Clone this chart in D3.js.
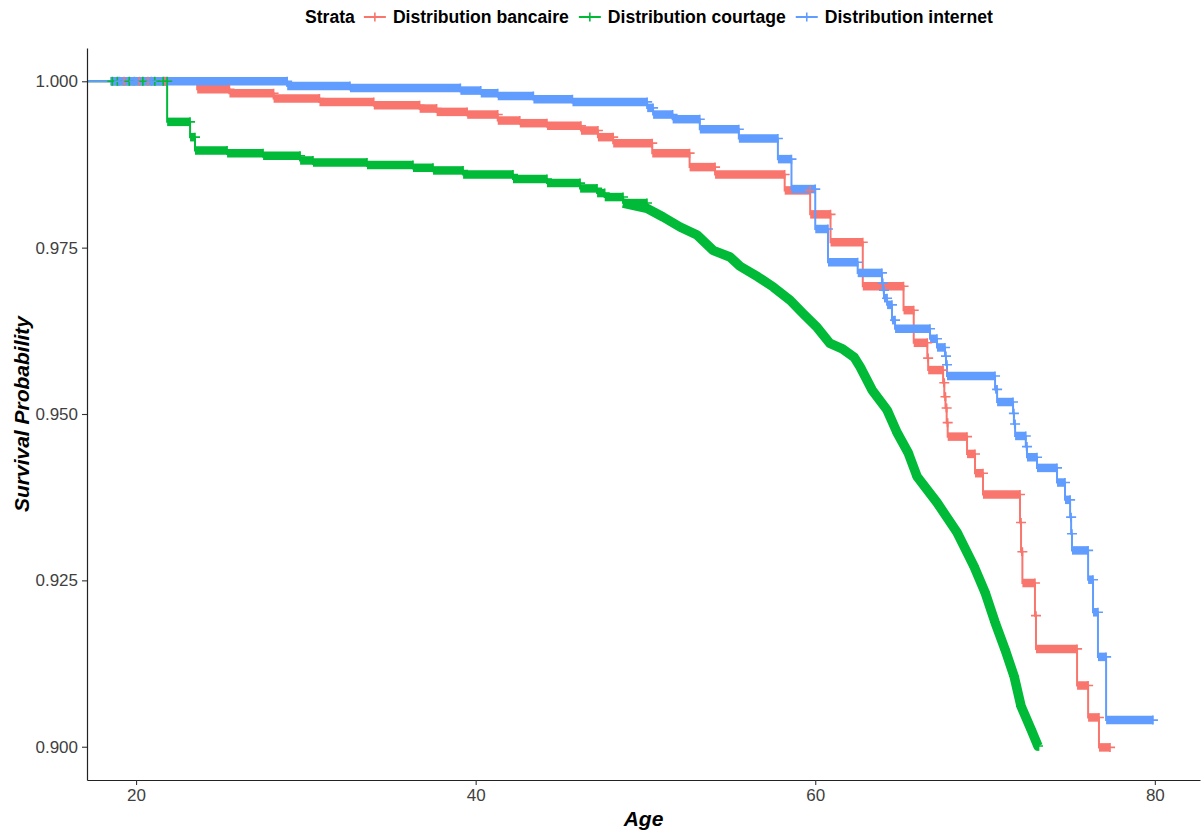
<!DOCTYPE html>
<html lang="fr">
  <head>
    <meta charset="utf-8">
    <title>Survival Probability</title>
    <script src="https://d3js.org/d3.v7.min.js"></script>
    <style media="screen">
      body { margin: 0; background: #fff; }
      svg { font-family: "Liberation Sans", Arial, sans-serif; }
    </style>
  </head>
  <body>
    <div id="chart"></div>
    <script type="text/javascript">
      // Kaplan-Meier steps: age of each drop, survival after it
      let strata = ["Distribution bancaire", "Distribution courtage", "Distribution internet"];
      let ageTicks = [20, 40, 60, 80];
      let survTicks = [0.900, 0.925, 0.950, 0.975, 1.000];

      let bancaireAge = [23.6, 25.5, 28.1, 30.8, 34.0, 36.7, 37.7, 39.5, 41.3, 42.6, 44.2, 46.2, 47.2, 48.1,
        50.4, 52.6, 54.1, 58.2, 59.7, 60.9, 62.8, 65.2, 65.8, 66.6, 66.65, 67.53, 67.6, 67.67, 67.74, 67.8,
        68.94, 69.41, 69.88, 72.06, 72.12, 72.2, 72.94, 73.0, 75.42, 76.07, 76.71];
      let bancaireSurv = [0.9988, 0.9982, 0.9974, 0.9969, 0.9964, 0.9959, 0.9954, 0.9950, 0.9941, 0.9937, 0.9933,
        0.9926, 0.9916, 0.9907, 0.9892, 0.9871, 0.9860, 0.9836, 0.9800, 0.9758, 0.9692, 0.9656, 0.9607, 0.9584,
        0.9566, 0.9547, 0.9526, 0.9509, 0.9487, 0.9466, 0.9440, 0.9411, 0.9379, 0.9337, 0.9293, 0.9246, 0.9197,
        0.9147, 0.9092, 0.9044, 0.8999];
      let bancaireEnd = 77.36;
      let bancaireEarly = [19.3, 20.2, 20.7, 21.7];

      let courtageAge = [21.83, 23.18, 23.47, 25.36, 27.48, 29.66, 30.42, 33.6, 36.31, 37.49, 39.26, 42.2, 44.2,
        46.15, 47.15, 47.6, 48.68, 50.09, 51.04, 52.04, 53.04, 53.98, 54.98, 55.57, 56.63, 57.52, 58.52, 59.28,
        60.11, 60.87, 61.6, 62.3, 62.64, 63.35, 64.23, 64.82, 65.47, 66.0, 67.17, 68.35, 69.35, 70.0, 70.59,
        71.18, 71.71, 72.12, 72.71, 73.12];
      let courtageSurv = [0.9939, 0.9916, 0.9896, 0.9892, 0.9888, 0.9881, 0.9878, 0.9874, 0.9870, 0.9866, 0.9860,
        0.9853, 0.9847, 0.9839, 0.9832, 0.9826, 0.9817, 0.9809, 0.9796, 0.9781, 0.9769, 0.9746, 0.9736, 0.9722,
        0.9706, 0.9691, 0.9671, 0.9651, 0.9630, 0.9606, 0.9598, 0.9585, 0.9571, 0.9536, 0.9506, 0.9472, 0.9442,
        0.9406, 0.9367, 0.9322, 0.9271, 0.9232, 0.9187, 0.9146, 0.9106, 0.9061, 0.9026, 0.9001];
      let courtageEnd = 73.2;
      let courtageEarly = [18.6, 18.9, 19.6, 20.4, 21.1, 21.6];

      let internetAge = [28.9, 32.6, 39.1, 40.3, 41.3, 43.4, 45.7, 50.1, 50.45, 51.6, 53.2, 55.5, 57.8, 58.6,
        60.0, 60.75, 62.5, 63.93, 63.98, 64.05, 64.23, 64.52, 64.7, 66.76, 67.17, 67.64, 67.7, 67.76, 70.59,
        70.71, 71.65, 71.7, 71.77, 72.4, 72.47, 73.06, 74.24, 74.71, 75.01, 75.07, 75.12, 76.07, 76.36, 76.65, 77.13];
      let internetSurv = [0.9993, 0.9990, 0.9986, 0.9982, 0.9978, 0.9973, 0.9969, 0.9960, 0.9950, 0.9943, 0.9928,
        0.9914, 0.9883, 0.9838, 0.9778, 0.9728, 0.9712, 0.9697, 0.9686, 0.9674, 0.9664, 0.9641, 0.9628, 0.9613,
        0.9600, 0.9587, 0.9574, 0.9557, 0.9537, 0.9518, 0.9501, 0.9485, 0.9467, 0.9451, 0.9435, 0.9419, 0.9397,
        0.9371, 0.9345, 0.9320, 0.9295, 0.9251, 0.9202, 0.9135, 0.9040];
      let internetEnd = 79.89;
      let internetEarly = [19.0, 19.9, 20.9];

      let w = 1203;
      let h = 833;
      let padL = 87, padR = 1200, padT = 48, padB = 780;

      let series = [
        { name: strata[0], color: "#F8766D", ages: bancaireAge, surv: bancaireSurv, end: bancaireEnd, early: bancaireEarly, bandFrom: 23.6 },
        { name: strata[1], color: "#00BA38", ages: courtageAge, surv: courtageSurv, end: courtageEnd, early: courtageEarly, bandFrom: 18.5, smoothFrom: 50 },
        { name: strata[2], color: "#619CFF", ages: internetAge, surv: internetSurv, end: internetEnd, early: internetEarly, bandFrom: 18.5 }
      ];

      let svg = d3.select("#chart")
                  .append("svg")
                  .attr("width", w)
                  .attr("height", h);

      let x = d3.scaleLinear().domain([17.11, 82.66]).range([padL, padR]);
      let y = d3.scaleLinear().domain([0.895, 1.005]).range([padB, padT]);

      let startAge = x.domain()[0];
      let plusPath = "M-5,0H5M0,-4.5V4.5";

      function smooth(s, a) {
        return s.smoothFrom !== undefined && a >= s.smoothFrom;
      }

      // flat pieces of a step curve (only where it is drawn as steps)
      function flats(s) {
        let out = [{ x0: startAge, x1: s.ages[0], v: 1 }];
        s.ages.forEach(function (a, i) {
          out.push({ x0: a, x1: i + 1 < s.ages.length ? s.ages[i + 1] : s.end, v: s.surv[i] });
        });
        return out.filter(d => d.x1 > s.bandFrom && !smooth(s, d.x0));
      }

      // corner points; where drops are very dense the curve just joins the points
      function pathPoints(s) {
        let out = [[startAge, 1]];
        let prev = 1;
        s.ages.forEach(function (a, i) {
          if (!smooth(s, a)) out.push([a, prev]);
          out.push([a, s.surv[i]]);
          prev = s.surv[i];
        });
        out.push([s.end, prev]);
        return out;
      }

      let line = d3.line()
                   .x(d => x(d[0]))
                   .y(d => y(d[1]));

      let curves = svg.append("g");
      series.forEach(function (s) {
        let g = curves.append("g");
        let pts = pathPoints(s);

        g.append("path")
         .attr("d", line(pts))
         .attr("fill", "none")
         .attr("stroke", s.color)
         .attr("stroke-width", 2);

        // dense censoring shows as a thick band along each flat
        g.selectAll("line.band")
         .data(flats(s))
         .enter()
         .append("line")
         .attr("class", "band")
         .attr("x1", d => x(Math.max(d.x0, s.bandFrom)))
         .attr("x2", d => x(d.x1))
         .attr("y1", d => y(d.v))
         .attr("y2", d => y(d.v))
         .attr("stroke", s.color)
         .attr("stroke-width", 8.5);

        if (s.smoothFrom !== undefined) {
          let k = pts.findIndex(d => d[0] >= s.smoothFrom);
          g.append("path")
           .attr("d", line(pts.slice(k - 1)))
           .attr("fill", "none")
           .attr("stroke", s.color)
           .attr("stroke-width", 9.5)
           .attr("stroke-linejoin", "round");
        }
      });

      // censor marks
      let marks = svg.append("g");
      series.forEach(function (s) {
        let pos = flats(s).map(d => [d.x1, d.v]);
        s.early.forEach(a => pos.push([a, 1]));
        s.ages.forEach(function (a, i) {
          if (smooth(s, a)) pos.push([a, s.surv[i]]);
        });
        marks.append("g")
             .selectAll("path")
             .data(pos)
             .enter()
             .append("path")
             .attr("transform", d => "translate(" + x(d[0]) + "," + y(d[1]) + ")")
             .attr("d", plusPath)
             .attr("stroke", s.color)
             .attr("stroke-width", 1.6)
             .attr("fill", "none");
      });

      // axes
      let xAxis = svg.append("g")
                     .attr("transform", "translate(0," + padB + ")")
                     .call(d3.axisBottom(x).tickValues(ageTicks).tickSize(5).tickSizeOuter(0).tickPadding(4));
      let yAxis = svg.append("g")
                     .attr("transform", "translate(" + padL + ",0)")
                     .call(d3.axisLeft(y).tickValues(survTicks).tickFormat(d3.format(".3f")).tickSize(5).tickSizeOuter(0).tickPadding(4));

      [xAxis, yAxis].forEach(function (a) {
        a.select(".domain").attr("stroke", "#222").attr("stroke-width", 1.2);
        a.selectAll(".tick line").attr("stroke", "#333").attr("stroke-width", 1.1);
        a.selectAll(".tick text")
         .attr("fill", "#3f3f3f")
         .attr("font-size", "17px")
         .attr("font-family", "'Liberation Sans', Arial, sans-serif");
      });

      svg.append("text")
         .text("Age")
         .attr("x", (padL + padR) / 2)
         .attr("y", 826)
         .attr("text-anchor", "middle")
         .attr("font-size", "21px")
         .attr("font-weight", "bold")
         .attr("font-style", "italic");

      svg.append("text")
         .text("Survival Probability")
         .attr("transform", "translate(29," + (padT + padB) / 2 + ") rotate(-90)")
         .attr("text-anchor", "middle")
         .attr("font-size", "21px")
         .attr("font-weight", "bold")
         .attr("font-style", "italic");

      // legend on top
      let legend = svg.append("g").attr("font-size", "17.6px").attr("font-weight", "bold");
      let cx = 305;
      let ly = 17;
      let title = legend.append("text").text("Strata").attr("x", cx).attr("y", ly).attr("dy", "0.35em");
      cx += title.node().getComputedTextLength() + 9;
      series.forEach(function (s) {
        legend.append("line")
              .attr("x1", cx).attr("x2", cx + 22)
              .attr("y1", ly).attr("y2", ly)
              .attr("stroke", s.color)
              .attr("stroke-width", 2);
        legend.append("path")
              .attr("transform", "translate(" + (cx + 11) + "," + ly + ")")
              .attr("d", plusPath)
              .attr("stroke", s.color)
              .attr("stroke-width", 1.6);
        cx += 29;
        let t = legend.append("text").text(s.name).attr("x", cx).attr("y", ly).attr("dy", "0.35em");
        cx += t.node().getComputedTextLength() + 10;
      });
    </script>
  </body>
</html>
